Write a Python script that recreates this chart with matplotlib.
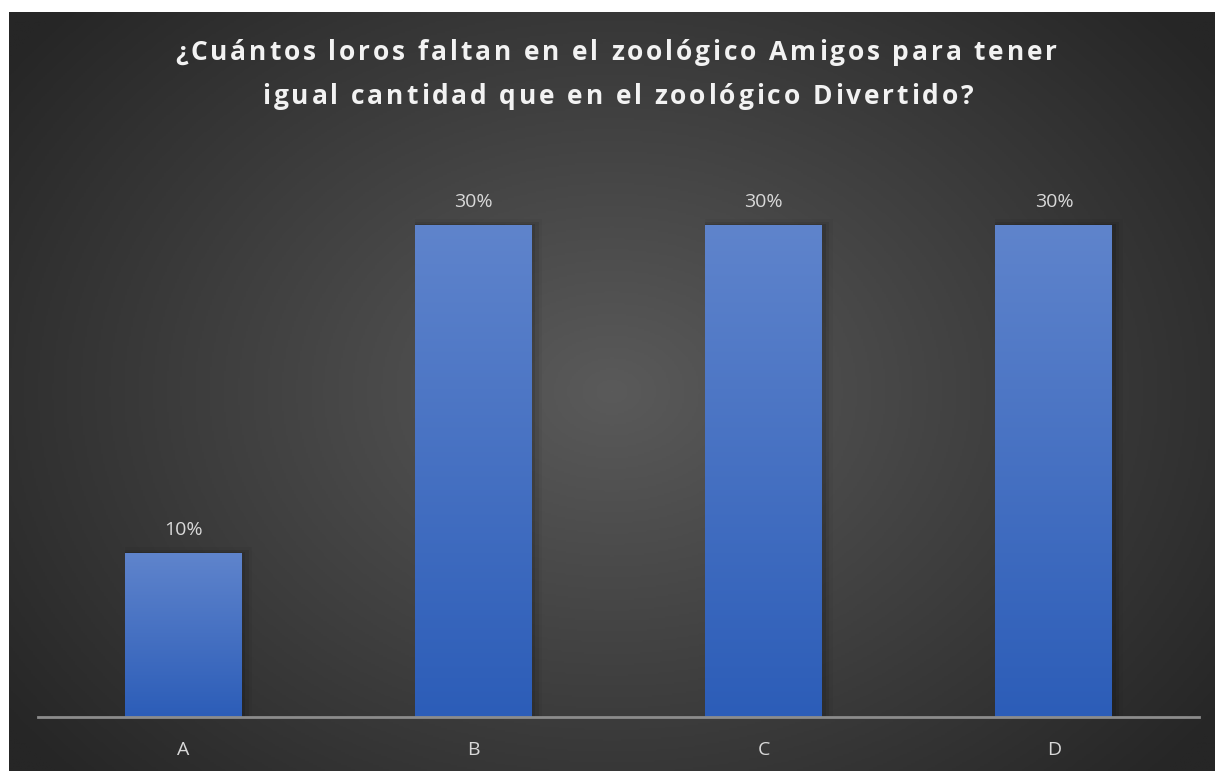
import matplotlib.pyplot as plt
import numpy as np
from matplotlib.colors import LinearSegmentedColormap

# Respuestas y porcentaje de alumnos
categorias = ["A", "B", "C", "D"]
porcentajes = [10, 30, 30, 30]
etiquetas = ["10%", "30%", "30%", "30%"]

titulo = ["¿Cuántos loros faltan en el zoológico Amigos para tener",
          "igual cantidad que en el zoológico Divertido?"]

W, H = 1215, 771
fig = plt.figure(figsize=(W / 100, H / 100), dpi=100)
fig.patch.set_facecolor("white")

# Fondo oscuro con degradado radial
bg = fig.add_axes([9 / W, 0, 1 - 9 / W, 1 - 12 / H])
bg.set_axis_off()
yy, xx = np.mgrid[0:1:400j, 0:1:600j]
r = np.sqrt(((xx - 0.5) / 0.62) ** 2 + ((yy - 0.5) / 0.75) ** 2)
r = np.clip(r, 0, 1)
fondo = LinearSegmentedColormap.from_list("fondo", ["#5a5a5a", "#262626"])
bg.imshow(r, cmap=fondo, aspect="auto", extent=(0, 1, 0, 1), vmin=0, vmax=1)
bg.set_xlim(0, 1)
bg.set_ylim(0, 1)

ax = fig.add_axes([38 / W, 54 / H, (1199 - 38) / W, (717 - 143) / H])
ax.patch.set_alpha(0)
x = np.arange(len(categorias))
ancho = 0.403

# Sombra suave detrás de las barras
for i, v in zip(x, porcentajes):
    for k, a in enumerate([0.10, 0.07, 0.04]):
        d = 0.006 * (k + 1)
        ax.bar(i + d, v + 0.15 * (k + 1), width=ancho + 2 * d, bottom=-0.1,
               color="black", alpha=a, zorder=1, linewidth=0)

barras = ax.bar(x, porcentajes, width=ancho, color="none", zorder=2)
azul = LinearSegmentedColormap.from_list("azul", ["#2c5db8", "#5f84cc"])
grad = np.linspace(0, 1, 256).reshape(-1, 1)
for b in barras:
    x0, y0 = b.get_x(), b.get_y()
    im = ax.imshow(grad, cmap=azul, aspect="auto", origin="lower", zorder=2,
                   extent=(x0, x0 + b.get_width(), y0, y0 + b.get_height()))
    im.set_clip_path(b)
ax.set_xlim(-0.5, len(categorias) - 0.5)
ax.set_ylim(0, 35)

for i, v, t in zip(x, porcentajes, etiquetas):
    ax.annotate(t, (i, v), xytext=(0, 10), textcoords="offset points",
                ha="center", va="bottom", color="#d9d9d9", fontsize=14,
                family="Open Sans")

ax.set_xticks(x)
ax.set_xticklabels(categorias, color="#d9d9d9", fontsize=14, family="Open Sans")
ax.tick_params(axis="x", length=0, pad=17)
ax.set_yticks([])
for s in ["top", "right", "left"]:
    ax.spines[s].set_visible(False)
ax.spines["bottom"].set_color("#8c8c8c")
ax.spines["bottom"].set_linewidth(2)
ax.spines["bottom"].set_zorder(3)

# Título con espaciado entre letras
renderer = fig.canvas.get_renderer()
props = dict(color="#f2f2f2", fontsize=19, fontweight="bold",
             family="Open Sans", va="center", ha="left")


def ancho_px(s):
    t = fig.text(0, 0, s, **props)
    w = t.get_window_extent(renderer).width
    t.remove()
    return w


def texto_espaciado(linea, xc, yc, extra):
    base = ancho_px("|")
    # posición acumulada de cada letra dentro de la línea
    pos = [ancho_px(linea[:k] + "|") - base for k in range(len(linea) + 1)]
    total = pos[-1] + extra * (len(linea) - 1)
    x_ini = xc - total / 2
    for k, c in enumerate(linea):
        if c != " ":
            fig.text((x_ini + pos[k] + extra * k) / W, 1 - yc / H, c, **props)


texto_espaciado(titulo[0], 616, 53, 2.9)
texto_espaciado(titulo[1], 618, 96, 2.9)

fig.savefig("out.png", dpi=100)
